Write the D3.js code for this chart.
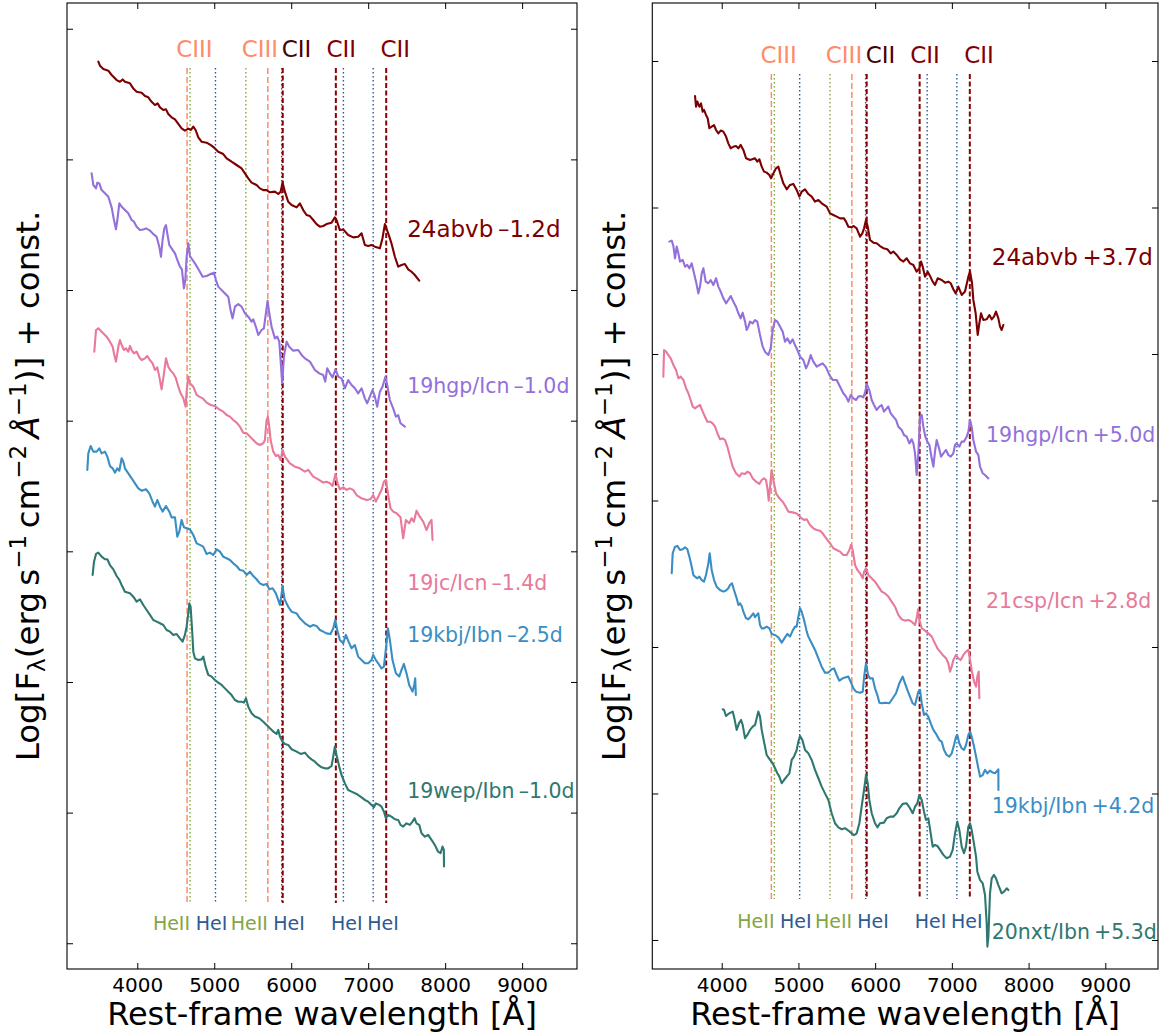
<!DOCTYPE html>
<html><head><meta charset="utf-8">
<script src="https://cdn.jsdelivr.net/npm/d3@7"></script>
<style>body{margin:0;background:#fff}svg{display:block;font-family:"DejaVu Sans",sans-serif}</style>
</head><body><svg id="c" width="1164" height="1036"></svg>
<script>
// ---------------- DATA (wavelength [Å], log flux + const) ----------------
const spec_L_24abvb = [[3494,7.748],[3515,7.717],[3559,7.691],[3624,7.679],[3667,7.646],[3732,7.607],[3775,7.594],[3810,7.612],[3840,7.594],[3905,7.582],[3948,7.543],[3992,7.518],[4057,7.510],[4100,7.485],[4143,7.475],[4186,7.441],[4230,7.416],[4264,7.429],[4295,7.398],[4338,7.378],[4373,7.383],[4403,7.347],[4446,7.322],[4490,7.306],[4533,7.271],[4576,7.237],[4619,7.220],[4663,7.235],[4697,7.225],[4728,7.250],[4758,7.225],[4793,7.168],[4836,7.135],[4901,7.128],[4966,7.105],[5009,7.084],[5052,7.059],[5117,7.041],[5161,7.008],[5225,6.982],[5290,6.957],[5355,6.931],[5399,6.893],[5442,6.855],[5485,6.822],[5550,6.804],[5593,6.778],[5637,6.765],[5680,6.765],[5723,6.748],[5788,6.753],[5832,6.735],[5862,6.753],[5888,6.822],[5918,6.753],[5961,6.676],[6005,6.651],[6070,6.633],[6113,6.663],[6156,6.612],[6199,6.574],[6243,6.566],[6286,6.536],[6329,6.505],[6373,6.485],[6416,6.490],[6459,6.505],[6524,6.515],[6567,6.556],[6589,6.536],[6632,6.459],[6676,6.464],[6740,6.421],[6806,6.403],[6870,6.408],[6914,6.434],[6957,6.345],[7000,6.337],[7044,6.345],[7087,6.332],[7152,6.319],[7186,6.396],[7217,6.505],[7260,6.434],[7303,6.357],[7347,6.255],[7390,6.179],[7433,6.192],[7477,6.199],[7520,6.158],[7563,6.140],[7606,6.115],[7663,6.072]];
const spec_L_19hgp = [[3407,6.893],[3429,6.804],[3464,6.778],[3481,6.822],[3507,6.816],[3537,6.765],[3580,6.740],[3624,6.714],[3667,6.633],[3697,6.536],[3723,6.465],[3741,6.536],[3767,6.663],[3797,6.638],[3840,6.612],[3883,6.587],[3927,6.536],[3957,6.523],[3992,6.485],[4035,6.459],[4078,6.464],[4113,6.472],[4156,6.459],[4199,6.434],[4251,6.408],[4286,6.332],[4308,6.255],[4329,6.383],[4351,6.472],[4373,6.497],[4390,6.434],[4416,6.345],[4446,6.319],[4490,6.281],[4520,6.230],[4554,6.179],[4580,6.158],[4606,6.013],[4624,6.077],[4641,6.255],[4663,6.357],[4684,6.260],[4719,6.230],[4762,6.192],[4806,6.148],[4849,6.102],[4901,6.107],[4953,6.123],[4996,6.133],[5022,6.077],[5052,6.026],[5117,5.987],[5182,5.949],[5212,5.847],[5238,5.783],[5269,5.873],[5312,5.893],[5355,5.873],[5399,5.822],[5442,5.796],[5485,5.758],[5507,5.776],[5541,5.719],[5572,5.656],[5615,5.694],[5645,5.707],[5671,5.822],[5693,5.918],[5715,5.822],[5745,5.719],[5788,5.630],[5818,5.643],[5845,5.605],[5862,5.464],[5883,5.286],[5905,5.490],[5940,5.605],[5974,5.566],[6026,5.536],[6091,5.541],[6135,5.503],[6178,5.477],[6243,5.452],[6308,5.388],[6364,5.362],[6416,5.350],[6442,5.299],[6468,5.401],[6503,5.362],[6537,5.332],[6576,5.393],[6611,5.337],[6654,5.324],[6697,5.248],[6740,5.311],[6784,5.273],[6827,5.248],[6870,5.209],[6914,5.248],[6957,5.171],[6987,5.133],[7022,5.184],[7057,5.235],[7087,5.184],[7117,5.107],[7152,5.222],[7186,5.260],[7225,5.337],[7251,5.260],[7282,5.158],[7325,5.094],[7360,5.031],[7390,5.043],[7420,4.980],[7477,4.954]];
const spec_L_19jc = [[3442,5.528],[3464,5.694],[3494,5.707],[3537,5.681],[3602,5.643],[3645,5.605],[3680,5.566],[3702,5.503],[3723,5.452],[3754,5.566],[3775,5.617],[3797,5.579],[3827,5.541],[3853,5.554],[3883,5.528],[3905,5.572],[3927,5.541],[3957,5.515],[3992,5.528],[4026,5.485],[4057,5.464],[4100,5.477],[4130,5.495],[4165,5.464],[4199,5.439],[4230,5.388],[4260,5.408],[4286,5.337],[4316,5.240],[4347,5.362],[4373,5.477],[4403,5.413],[4433,5.383],[4468,5.362],[4502,5.324],[4533,5.260],[4563,5.209],[4598,5.171],[4628,5.107],[4641,5.222],[4663,5.337],[4684,5.286],[4728,5.260],[4771,5.197],[4806,5.184],[4849,5.171],[4901,5.138],[4953,5.120],[5009,5.112],[5065,5.087],[5117,5.069],[5161,5.043],[5204,5.031],[5247,5.005],[5290,4.985],[5334,4.954],[5377,4.908],[5420,4.903],[5464,4.878],[5507,4.852],[5550,4.827],[5593,4.814],[5637,4.827],[5658,4.852],[5680,5.005],[5697,5.031],[5715,4.954],[5732,4.852],[5767,4.763],[5801,4.730],[5832,4.737],[5862,4.699],[5888,4.776],[5918,4.725],[5983,4.674],[6048,4.648],[6113,4.635],[6178,4.610],[6221,4.623],[6286,4.572],[6351,4.551],[6416,4.526],[6459,4.533],[6503,4.521],[6537,4.500],[6576,4.592],[6602,4.521],[6632,4.475],[6676,4.490],[6719,4.470],[6762,4.482],[6806,4.470],[6849,4.431],[6914,4.406],[6979,4.393],[7031,4.398],[7065,4.431],[7100,4.380],[7130,4.418],[7173,4.470],[7204,4.533],[7230,4.546],[7260,4.431],[7290,4.329],[7325,4.304],[7368,4.291],[7420,4.260],[7455,4.100],[7490,4.240],[7533,4.214],[7563,4.253],[7593,4.227],[7628,4.311],[7671,4.265],[7715,4.227],[7758,4.163],[7792,4.214],[7823,4.240],[7836,4.087]];
const spec_L_19kbj = [[3351,4.623],[3364,4.750],[3394,4.806],[3429,4.763],[3472,4.763],[3507,4.788],[3537,4.750],[3580,4.763],[3611,4.725],[3645,4.653],[3680,4.635],[3710,4.602],[3741,4.635],[3767,4.617],[3797,4.712],[3819,4.686],[3840,4.635],[3883,4.597],[3927,4.559],[3970,4.520],[4013,4.482],[4057,4.464],[4113,4.475],[4156,4.444],[4199,4.380],[4230,4.342],[4260,4.393],[4295,4.342],[4329,4.304],[4373,4.347],[4416,4.304],[4446,4.260],[4490,4.260],[4520,4.112],[4546,4.151],[4576,4.240],[4606,4.184],[4641,4.176],[4684,4.168],[4728,4.125],[4771,4.061],[4814,4.049],[4857,4.036],[4901,3.980],[4944,3.990],[4987,3.972],[5031,4.015],[5074,3.998],[5117,3.959],[5161,3.947],[5204,3.934],[5247,3.908],[5290,3.888],[5334,3.857],[5377,3.852],[5420,3.819],[5464,3.844],[5507,3.811],[5550,3.786],[5593,3.755],[5637,3.742],[5680,3.750],[5715,3.709],[5758,3.717],[5801,3.678],[5832,3.627],[5853,3.589],[5870,3.653],[5888,3.730],[5914,3.633],[5961,3.576],[6005,3.538],[6070,3.525],[6113,3.487],[6178,3.449],[6243,3.423],[6286,3.436],[6329,3.429],[6373,3.398],[6416,3.385],[6459,3.372],[6511,3.367],[6546,3.411],[6572,3.474],[6598,3.398],[6632,3.321],[6676,3.296],[6710,3.360],[6745,3.309],[6784,3.258],[6827,3.283],[6870,3.194],[6914,3.168],[6957,3.143],[7000,3.143],[7044,3.168],[7065,3.207],[7100,3.168],[7130,3.143],[7173,3.104],[7204,3.117],[7238,3.296],[7256,3.411],[7282,3.321],[7316,3.168],[7360,3.066],[7403,3.041],[7433,3.092],[7464,3.138],[7498,3.066],[7533,2.977],[7576,2.926],[7598,2.977],[7611,3.028],[7619,2.900]];
const spec_L_19wep = [[3420,3.819],[3438,3.921],[3464,3.980],[3494,3.990],[3537,3.959],[3580,3.939],[3611,3.939],[3645,3.895],[3689,3.862],[3732,3.811],[3767,3.781],[3797,3.742],[3840,3.691],[3905,3.679],[3948,3.653],[3992,3.615],[4035,3.633],[4078,3.589],[4122,3.551],[4165,3.513],[4208,3.474],[4251,3.462],[4295,3.449],[4338,3.436],[4381,3.398],[4425,3.385],[4468,3.360],[4511,3.367],[4554,3.334],[4589,3.309],[4619,3.360],[4641,3.423],[4663,3.525],[4676,3.602],[4693,3.576],[4710,3.423],[4728,3.232],[4749,3.181],[4793,3.168],[4836,3.173],[4858,3.194],[4888,3.117],[4922,3.054],[4966,3.041],[5009,3.015],[5052,2.995],[5096,2.977],[5139,2.951],[5182,2.926],[5225,2.900],[5269,2.862],[5312,2.849],[5355,2.849],[5386,2.842],[5412,2.875],[5442,2.811],[5485,2.760],[5529,2.735],[5585,2.722],[5637,2.696],[5680,2.671],[5723,2.645],[5767,2.620],[5810,2.602],[5832,2.633],[5853,2.582],[5888,2.543],[5918,2.525],[5961,2.518],[6005,2.485],[6070,2.467],[6122,2.449],[6178,2.459],[6221,2.428],[6264,2.408],[6308,2.390],[6351,2.365],[6394,2.347],[6438,2.339],[6481,2.339],[6524,2.357],[6546,2.428],[6567,2.505],[6589,2.441],[6624,2.352],[6654,2.288],[6697,2.224],[6740,2.173],[6784,2.161],[6849,2.143],[6914,2.117],[6957,2.097],[7000,2.084],[7044,2.059],[7074,2.041],[7100,2.071],[7143,2.059],[7173,2.046],[7204,2.008],[7230,1.957],[7260,1.982],[7303,1.969],[7347,1.949],[7390,1.944],[7420,1.906],[7455,1.893],[7498,1.918],[7541,1.906],[7576,1.931],[7602,1.957],[7628,1.918],[7663,1.906],[7693,1.842],[7736,1.816],[7779,1.829],[7823,1.791],[7866,1.752],[7909,1.701],[7940,1.689],[7966,1.740],[7983,1.714],[7985,1.587]];

const spec_R_24abvb = [[3652,6.761],[3665,6.688],[3682,6.723],[3708,6.688],[3730,6.711],[3752,6.654],[3769,6.666],[3795,6.632],[3817,6.609],[3839,6.541],[3869,6.552],[3900,6.563],[3926,6.529],[3956,6.506],[3987,6.525],[4021,6.518],[4056,6.484],[4086,6.438],[4117,6.404],[4152,6.415],[4186,6.420],[4217,6.404],[4247,6.427],[4282,6.393],[4317,6.336],[4369,6.324],[4434,6.336],[4464,6.313],[4491,6.329],[4521,6.279],[4551,6.245],[4586,6.238],[4621,6.222],[4643,6.199],[4673,6.233],[4708,6.268],[4738,6.279],[4769,6.222],[4803,6.165],[4847,6.124],[4890,6.154],[4934,6.161],[4977,6.120],[5012,6.074],[5042,6.108],[5086,6.124],[5129,6.092],[5173,6.074],[5216,6.040],[5260,6.051],[5303,6.029],[5368,6.006],[5412,5.960],[5455,5.949],[5499,5.938],[5542,5.926],[5594,5.926],[5620,5.904],[5651,5.869],[5694,5.865],[5716,5.874],[5759,5.858],[5803,5.801],[5833,5.824],[5855,5.858],[5881,5.915],[5903,5.869],[5933,5.778],[5977,5.760],[6020,5.756],[6063,5.737],[6107,5.722],[6159,5.715],[6203,5.687],[6237,5.699],[6281,5.676],[6324,5.646],[6368,5.631],[6411,5.653],[6454,5.619],[6498,5.608],[6541,5.562],[6576,5.585],[6598,5.631],[6620,5.596],[6650,5.528],[6685,5.562],[6715,5.533],[6750,5.494],[6780,5.471],[6815,5.517],[6867,5.505],[6911,5.487],[6954,5.494],[6985,5.483],[7019,5.442],[7050,5.414],[7084,5.460],[7128,5.403],[7171,5.426],[7215,5.528],[7237,5.562],[7263,5.483],[7280,5.369],[7310,5.278],[7337,5.130],[7358,5.209],[7380,5.278],[7410,5.232],[7454,5.237],[7489,5.266],[7519,5.237],[7549,5.255],[7575,5.289],[7606,5.243],[7628,5.187],[7649,5.164],[7671,5.198]];
const spec_R_19hgp = [[3317,5.767],[3348,5.774],[3370,5.737],[3391,5.653],[3413,5.733],[3435,5.687],[3456,5.631],[3491,5.642],[3522,5.596],[3552,5.608],[3578,5.585],[3608,5.619],[3639,5.551],[3665,5.494],[3695,5.414],[3717,5.460],[3739,5.551],[3761,5.585],[3791,5.494],[3826,5.483],[3856,5.505],[3891,5.471],[3926,5.517],[3956,5.460],[3987,5.426],[4021,5.380],[4056,5.346],[4086,5.369],[4117,5.396],[4152,5.357],[4186,5.323],[4217,5.278],[4247,5.243],[4273,5.282],[4304,5.221],[4325,5.164],[4347,5.187],[4369,5.221],[4404,5.209],[4434,5.232],[4464,5.221],[4499,5.130],[4534,5.050],[4564,5.016],[4608,4.993],[4638,5.039],[4664,5.164],[4695,5.232],[4725,5.221],[4760,5.187],[4795,5.152],[4825,5.084],[4856,5.107],[4890,5.073],[4925,5.100],[4955,5.061],[4986,5.027],[5021,4.982],[5064,4.959],[5099,4.902],[5129,4.936],[5160,4.993],[5194,4.948],[5238,4.914],[5273,4.925],[5316,4.936],[5360,4.909],[5403,4.857],[5446,4.823],[5499,4.823],[5542,4.777],[5585,4.732],[5620,4.709],[5651,4.675],[5681,4.720],[5716,4.697],[5751,4.686],[5781,4.709],[5811,4.713],[5846,4.704],[5872,4.743],[5890,4.795],[5924,4.754],[5955,4.686],[5985,4.652],[6020,4.618],[6055,4.641],[6085,4.652],[6115,4.607],[6150,4.629],[6172,4.641],[6202,4.595],[6237,4.572],[6272,4.550],[6302,4.504],[6346,4.481],[6376,4.447],[6411,4.436],[6446,4.390],[6476,4.418],[6498,4.390],[6520,4.322],[6541,4.174],[6563,4.322],[6585,4.572],[6607,4.584],[6628,4.504],[6654,4.436],[6680,4.402],[6707,4.379],[6737,4.288],[6759,4.231],[6780,4.334],[6802,4.413],[6833,4.356],[6859,4.299],[6889,4.322],[6924,4.345],[6954,4.311],[6985,4.299],[7019,4.322],[7041,4.379],[7063,4.390],[7098,4.368],[7128,4.402],[7158,4.402],[7193,4.436],[7215,4.470],[7237,4.550],[7258,4.504],[7280,4.413],[7315,4.334],[7345,4.311],[7367,4.231],[7402,4.186],[7432,4.174],[7476,4.151]];
const spec_R_21csp = [[3239,4.845],[3248,5.027],[3274,5.016],[3304,4.993],[3335,4.970],[3370,4.925],[3404,4.891],[3435,4.834],[3465,4.845],[3500,4.823],[3535,4.766],[3565,4.732],[3595,4.686],[3622,4.641],[3652,4.629],[3682,4.641],[3717,4.652],[3752,4.606],[3782,4.572],[3813,4.538],[3847,4.538],[3882,4.527],[3913,4.504],[3943,4.459],[3978,4.418],[4013,4.424],[4043,4.413],[4073,4.368],[4108,4.299],[4143,4.231],[4186,4.186],[4230,4.163],[4260,4.186],[4304,4.181],[4334,4.197],[4369,4.186],[4404,4.151],[4447,4.129],[4491,4.113],[4521,4.140],[4551,4.151],[4577,4.140],[4599,4.072],[4612,3.999],[4630,4.095],[4651,4.208],[4673,4.140],[4708,4.049],[4751,4.015],[4795,3.992],[4834,3.958],[4869,3.924],[4925,3.919],[4977,3.912],[5012,3.894],[5042,3.878],[5077,3.867],[5108,3.872],[5151,3.833],[5194,3.810],[5238,3.799],[5281,3.794],[5316,3.776],[5346,3.753],[5377,3.731],[5412,3.708],[5455,3.674],[5499,3.662],[5542,3.651],[5585,3.628],[5629,3.628],[5664,3.662],[5685,3.697],[5707,3.662],[5738,3.560],[5768,3.526],[5803,3.503],[5838,3.469],[5855,3.514],[5881,3.537],[5911,3.492],[5955,3.469],[5998,3.446],[6042,3.412],[6085,3.378],[6129,3.366],[6172,3.344],[6215,3.310],[6259,3.275],[6302,3.219],[6346,3.189],[6389,3.180],[6433,3.184],[6476,3.173],[6520,3.150],[6541,3.196],[6559,3.257],[6576,3.184],[6607,3.128],[6650,3.112],[6693,3.093],[6737,3.071],[6780,3.025],[6811,2.991],[6846,2.968],[6880,2.946],[6924,2.923],[6954,2.889],[6976,2.832],[6998,2.866],[7019,2.911],[7054,2.946],[7084,2.923],[7115,2.911],[7150,2.946],[7184,2.968],[7215,2.980],[7237,2.911],[7258,2.843],[7289,2.764],[7315,2.729],[7332,2.798],[7350,2.832],[7358,2.650]];
const spec_R_19kbj = [[3348,3.503],[3361,3.640],[3391,3.685],[3422,3.690],[3456,3.662],[3491,3.667],[3522,3.681],[3552,3.667],[3578,3.617],[3608,3.549],[3630,3.492],[3652,3.480],[3682,3.469],[3708,3.480],[3739,3.457],[3769,3.446],[3795,3.492],[3826,3.571],[3843,3.640],[3869,3.526],[3900,3.457],[3934,3.412],[3978,3.389],[4021,3.378],[4056,3.385],[4086,3.401],[4108,3.423],[4134,3.435],[4160,3.389],[4195,3.332],[4217,3.287],[4239,3.298],[4260,3.280],[4282,3.241],[4317,3.196],[4347,3.189],[4378,3.207],[4412,3.230],[4434,3.203],[4456,3.219],[4477,3.230],[4499,3.150],[4521,3.127],[4551,3.127],[4586,3.139],[4621,3.127],[4651,3.089],[4695,3.082],[4738,3.066],[4782,3.030],[4825,3.066],[4856,3.089],[4890,3.071],[4925,3.112],[4955,3.139],[4977,3.139],[4999,3.207],[5021,3.264],[5042,3.241],[5073,3.184],[5108,3.105],[5129,3.071],[5173,3.025],[5216,2.980],[5260,2.923],[5303,2.866],[5346,2.825],[5390,2.825],[5433,2.848],[5464,2.854],[5499,2.809],[5533,2.770],[5577,2.786],[5620,2.793],[5651,2.798],[5681,2.763],[5716,2.718],[5751,2.695],[5803,2.688],[5838,2.695],[5859,2.809],[5881,2.889],[5907,2.809],[5933,2.786],[5968,2.786],[5998,2.718],[6029,2.672],[6055,2.620],[6085,2.616],[6129,2.620],[6185,2.616],[6229,2.650],[6272,2.684],[6315,2.752],[6359,2.798],[6389,2.752],[6420,2.707],[6454,2.661],[6489,2.616],[6520,2.604],[6541,2.650],[6563,2.695],[6585,2.707],[6607,2.616],[6637,2.536],[6663,2.547],[6693,2.525],[6724,2.479],[6759,2.434],[6802,2.400],[6837,2.365],[6867,2.354],[6898,2.297],[6932,2.263],[6967,2.252],[6998,2.274],[7028,2.331],[7054,2.388],[7071,2.400],[7097,2.343],[7128,2.309],[7158,2.297],[7184,2.331],[7215,2.400],[7237,2.422],[7258,2.388],[7289,2.320],[7315,2.252],[7345,2.172],[7367,2.115],[7402,2.126],[7432,2.161],[7463,2.138],[7497,2.156],[7532,2.143],[7563,2.138],[7606,2.165],[7607,2.024]];
const spec_R_20nxt = [[4013,2.575],[4030,2.570],[4056,2.529],[4086,2.543],[4117,2.552],[4143,2.559],[4165,2.513],[4195,2.434],[4225,2.479],[4252,2.502],[4273,2.468],[4304,2.377],[4334,2.400],[4369,2.434],[4404,2.456],[4434,2.468],[4456,2.513],[4477,2.559],[4499,2.525],[4521,2.434],[4551,2.354],[4586,2.263],[4630,2.229],[4664,2.206],[4695,2.172],[4725,2.138],[4751,2.115],[4782,2.070],[4812,2.092],[4847,2.115],[4882,2.138],[4912,2.229],[4942,2.252],[4977,2.297],[4999,2.354],[5021,2.393],[5051,2.365],[5086,2.297],[5129,2.274],[5173,2.229],[5216,2.161],[5260,2.104],[5303,2.047],[5346,2.001],[5390,1.956],[5433,1.865],[5477,1.797],[5520,1.769],[5564,1.756],[5607,1.763],[5651,1.747],[5694,1.728],[5724,1.715],[5759,1.728],[5794,1.797],[5824,1.910],[5855,2.024],[5881,2.126],[5903,2.070],[5924,1.956],[5955,1.865],[5998,1.797],[6029,1.769],[6063,1.797],[6115,1.801],[6150,1.831],[6194,1.842],[6237,1.842],[6281,1.865],[6315,1.899],[6359,1.929],[6411,1.933],[6454,1.899],[6489,1.865],[6520,1.910],[6550,1.933],[6576,1.990],[6607,1.956],[6637,1.876],[6663,1.819],[6693,1.831],[6724,1.728],[6750,1.637],[6780,1.649],[6811,1.642],[6846,1.615],[6889,1.581],[6932,1.558],[6976,1.569],[7011,1.615],[7041,1.728],[7071,1.808],[7097,1.751],[7128,1.637],[7158,1.592],[7184,1.637],[7215,1.774],[7237,1.797],[7258,1.751],[7280,1.683],[7315,1.569],[7332,1.466],[7367,1.410],[7402,1.387],[7432,1.307],[7454,1.114],[7463,0.955],[7476,1.023],[7497,1.319],[7519,1.421],[7549,1.444],[7575,1.421],[7606,1.375],[7649,1.319],[7680,1.330],[7715,1.353],[7736,1.341]];

const names_L = ["24abvb","19hgp/Icn","19jc/Icn","19kbj/Ibn","19wep/Ibn"];
const phases_L = ["\u20131.2d","\u20131.0d","\u20131.4d","\u20132.5d","\u20131.0d"];
const names_R = ["24abvb","19hgp/Icn","21csp/Icn","19kbj/Ibn","20nxt/Ibn"];
const phases_R = ["+3.7d","+5.0d","+2.8d","+4.2d","+5.3d"];
const labelV_L = [6.406, 5.212, 3.704, 3.308, 2.112];
const labelW_L = [7506, 7506, 7506, 7506, 7506];
const labelV_R = [5.608, 4.401, 3.266, 1.867, 1.007];
const labelW_R = [7520, 7446, 7446, 7520, 7520];

const lineWaves = [4647, 4686, 5016, 5411, 5696, 5876, 5890, 6580, 6678, 7065, 7234];
const lineIons  = ["CIII","HeII","HeI","HeII","CIII","HeI","CII","CII","HeI","HeI","CII"];
const topLabels = ["CIII","CIII","CII","CII","CII"];
const topLabelWaves = [4505, 5356, 5876, 6458, 7160];
const botLabels = ["HeII","HeI","HeII","HeI","HeI","HeI"];
const botLabelWaves = [4203, 4759, 5215, 5767, 6516, 6989];
const xTicks = [4000, 5000, 6000, 7000, 8000, 9000];

// ---------------- STYLE ----------------
const specColors = ["#7d0000", "#9370db", "#e8799a", "#3a8ec4", "#2e7870"];
const ionStyle = {
  CIII: {c:"#ff8c69", w:1.5, d:"6,3"},
  HeII: {c:"#86a83e", w:1.4, d:"1.4,2.6"},
  HeI:  {c:"#2b5a96", w:1.4, d:"1.4,2.6"},
  CII:  {c:"#8b0000", w:2.0, d:"5,2.5"}
};
const labelColors = {CIII:"#ff8c69", CII:"#800000", HeII:"#84a543", HeI:"#2e5a92"};

const panels = [
  {x0:67, x1:577, y0:3, y1:969, xDom:[3087,9713], yDom:[0.803,8.197], yTicks:[1,2,3,4,5,6,7,8],
   spectra:[spec_L_24abvb, spec_L_19hgp, spec_L_19jc, spec_L_19kbj, spec_L_19wep],
   names:names_L, phases:phases_L, lv:labelV_L, lw:labelW_L,
   span:[1.308,7.699], topV:7.783, botV:1.102, ylabX:39},
  {x0:652.3, x1:1158, y0:3, y1:969, xDom:[3095,9687], yDom:[0.802,7.396], yTicks:[1,2,3,4,5,6,7],
   spectra:[spec_R_24abvb, spec_R_19hgp, spec_R_21csp, spec_R_19kbj, spec_R_20nxt],
   names:names_R, phases:phases_R, lv:labelV_R, lw:labelW_R,
   span:[1.28,6.911], topV:6.984, botV:1.082, ylabX:625}
];

const svg = d3.select("#c");
svg.append("rect").attr("width",1164).attr("height",1036).attr("fill","#fff");

panels.forEach((p) => {
  const x = d3.scaleLinear().domain(p.xDom).range([p.x0, p.x1]);
  const y = d3.scaleLinear().domain(p.yDom).range([p.y1, p.y0]);
  const g = svg.append("g");

  // vertical line markers
  lineWaves.forEach((w, i) => {
    const s = ionStyle[lineIons[i]];
    g.append("line").attr("x1", x(w)).attr("x2", x(w))
      .attr("y1", y(p.span[1])).attr("y2", y(p.span[0]))
      .attr("stroke", s.c).attr("stroke-width", s.w).attr("stroke-dasharray", s.d);
  });

  // spectra
  const line = d3.line().x(d => x(d[0])).y(d => y(d[1]));
  p.spectra.forEach((s, i) => {
    g.append("path").datum(s).attr("d", line).attr("fill","none")
      .attr("stroke", specColors[i]).attr("stroke-width", 2.1)
      .attr("stroke-linejoin","round").attr("stroke-linecap","round");
  });

  // ion labels
  topLabels.forEach((t, i) => {
    g.append("text").attr("x", x(topLabelWaves[i])).attr("y", y(p.topV))
      .attr("font-size", 23).attr("fill", i === 2 ? "#4a0000" : labelColors[t]).text(t);
  });
  botLabels.forEach((t, i) => {
    g.append("text").attr("x", x(botLabelWaves[i])).attr("y", y(p.botV))
      .attr("font-size", 19).attr("fill", labelColors[t]).text(t);
  });

  // series labels (the new object 24abvb is shown larger)
  p.names.forEach((n, i) => {
    g.append("text").attr("x", x(p.lw[i])).attr("y", y(p.lv[i]))
      .attr("font-size", i === 0 ? 23 : 20.5).attr("fill", specColors[i])
      .text(n + "\u2009" + p.phases[i]);
  });

  // axes (inward ticks)
  const axB = g.append("g").attr("transform", `translate(0,${p.y1})`)
    .call(d3.axisBottom(x).tickValues(xTicks).tickFormat(d3.format("d")).tickSize(-6).tickSizeOuter(0).tickPadding(9));
  axB.selectAll("text").attr("font-size", 20).attr("fill","#000").style("font-family","DejaVu Sans");
  const axT = g.append("g").attr("transform", `translate(0,${p.y0})`)
    .call(d3.axisTop(x).tickValues(xTicks).tickSize(-6).tickSizeOuter(0).tickFormat(""));
  const axL = g.append("g").attr("transform", `translate(${p.x0},0)`)
    .call(d3.axisLeft(y).tickValues(p.yTicks).tickSize(-6).tickSizeOuter(0).tickFormat(""));
  const axR = g.append("g").attr("transform", `translate(${p.x1},0)`)
    .call(d3.axisRight(y).tickValues(p.yTicks).tickSize(-6).tickSizeOuter(0).tickFormat(""));
  [axB, axT, axL, axR].forEach(a => {
    a.select(".domain").remove();
    a.selectAll("line").attr("stroke","#000").attr("stroke-width",1);
  });
  g.append("rect").attr("x", p.x0).attr("y", p.y0).attr("width", p.x1 - p.x0).attr("height", p.y1 - p.y0)
    .attr("fill","none").attr("stroke","#000").attr("stroke-width",1.1);

  // axis labels
  g.append("text").attr("x", (p.x0 + p.x1) / 2).attr("y", 1025).attr("text-anchor","middle")
    .attr("font-size", 32).attr("fill","#000").text("Rest-frame wavelength [\u00c5]");

  const yl = g.append("text").attr("transform", `translate(${p.ylabX},${(p.y0 + p.y1) / 2}) rotate(-90)`)
    .attr("text-anchor","middle").attr("font-size", 32.5).attr("fill","#000");
  yl.append("tspan").text("Log[F");
  yl.append("tspan").attr("font-size", 23).attr("dy", 6).text("\u03bb");
  yl.append("tspan").attr("dy", -6).text("(erg\u2009s");
  yl.append("tspan").attr("font-size", 23).attr("dy", -13).text("\u22121");
  yl.append("tspan").attr("dy", 13).text("\u2009cm");
  yl.append("tspan").attr("font-size", 23).attr("dy", -13).text("\u22122");
  yl.append("tspan").attr("dy", 13).attr("font-style","italic").text("\u2009\u00c5");
  yl.append("tspan").attr("font-size", 23).attr("dy", -13).text("\u22121");
  yl.append("tspan").attr("dy", 13).text(")] + const.");
});
</script>
</body></html>
